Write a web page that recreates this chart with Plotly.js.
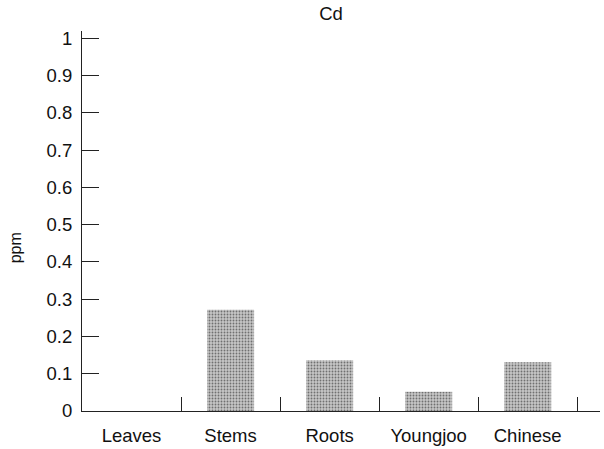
<!DOCTYPE html>
<html>
<head>
<meta charset="utf-8">
<script src="https://cdn.plot.ly/plotly-3.0.1.min.js"></script>
<style>html,body{margin:0;padding:0;background:#fff;}#chart{width:604px;height:449px;}</style>
</head>
<body>
<div id="chart"></div>
<script>
const categories = ["Leaves", "Stems", "Roots", "Youngjoo", "Chinese"];
const cdValues = [0, 0.272, 0.136, 0.052, 0.131];
const yTickVals = [0, 0.1, 0.2, 0.3, 0.4, 0.5, 0.6, 0.7, 0.8, 0.9, 1];
const yTickText = ["0", "0.1", "0.2", "0.3", "0.4", "0.5", "0.6", "0.7", "0.8", "0.9", "1"];

const font = {family: "Liberation Sans, Arial, sans-serif", size: 18.5, color: "#111"};

Plotly.newPlot("chart", [{
  type: "bar",
  x: categories,
  y: cdValues,
  width: 0.475,
  marker: {
    color: "#c0c0c0",
    line: {width: 0},
    pattern: {shape: ".", fgcolor: "#707070", bgcolor: "#c6c6c6", size: 3, solidity: 0.3}
  },
  hoverinfo: "skip"
}], {
  width: 604, height: 449,
  margin: {l: 82, r: 4, t: 31, b: 38},
  paper_bgcolor: "#fff", plot_bgcolor: "#fff",
  font: font,
  showlegend: false,
  title: {text: "Cd", x: 331/604, xanchor: "center", xref: "container", y: 1 - 14/449, yanchor: "middle", yref: "container", font: {family: font.family, size: 18.5, color: "#111"}},
  xaxis: {
    type: "category",
    range: [-0.5, 4.73],
    tickson: "boundaries",
    ticks: "inside", ticklen: 14, tickwidth: 1, tickcolor: "#222",
    showline: true, linecolor: "#222", linewidth: 1,
    showgrid: false, zeroline: false,
    ticklabelstandoff: 8,
    tickfont: font,
    fixedrange: true
  },
  yaxis: {
    range: [0, 1.02],
    tickvals: yTickVals, ticktext: yTickText,
    ticks: "inside", ticklen: 17, tickwidth: 1, tickcolor: "#222",
    showline: true, linecolor: "#222", linewidth: 1,
    showgrid: false, zeroline: false,
    ticklabelstandoff: 5,
    tickfont: font,
    fixedrange: true
  },
  annotations: [{
    text: "ppm", textangle: -90, showarrow: false,
    xref: "paper", yref: "paper", x: -0.128, xanchor: "center", y: 0.43, yanchor: "middle",
    font: {family: font.family, size: 16, color: "#111"}
  }]
}, {displayModeBar: false, staticPlot: true});
</script>
</body>
</html>
